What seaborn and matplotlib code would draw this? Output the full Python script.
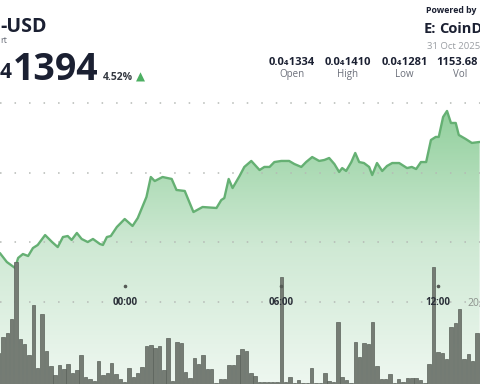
import numpy as np
import matplotlib
matplotlib.use("Agg")
import matplotlib.pyplot as plt
import matplotlib.transforms as mtransforms
from matplotlib.colors import LinearSegmentedColormap
import seaborn as sns

# price line: minutes from 00:00 (31 Oct), price in units of 0.0₄
line_min = [-287, -271, -252, -245, -234, -222, -211, -200, -183, -167, -154, -142,
            -131, -122, -110, -99, -85, -73, -57, -50, -41, -32, -18, 0, 18, 30,
            50, 60, 69, 87, 108, 119, 138, 158, 179, 211, 222, 229, 239, 248, 264,
            275, 291, 310, 321, 333, 344, 360, 378, 390, 406, 417, 431, 447, 459,
            470, 482, 493, 500, 509, 521, 530, 539, 550, 562, 569, 580, 592, 603,
            615, 631, 649, 660, 670, 681, 693, 704, 715, 722, 732, 741, 750, 761,
            768, 784, 798, 816]
line_price = [1293.2, 1285.9, 1281.0, 1289.2, 1292.4, 1290.8, 1297.3, 1299.8, 1307.9,
              1302.2, 1298.1, 1306.3, 1307.1, 1303.9, 1309.6, 1304.7, 1302.2, 1304.7,
              1300.6, 1299.8, 1306.3, 1307.1, 1314.5, 1321.0, 1315.3, 1321.8, 1339.0,
              1355.3, 1352.0, 1355.3, 1353.7, 1344.7, 1343.9, 1326.7, 1330.8, 1330.0,
              1336.5, 1338.1, 1353.7, 1346.3, 1356.1, 1363.5, 1368.4, 1361.0, 1363.5,
              1363.5, 1367.5, 1368.4, 1368.4, 1365.9, 1363.5, 1367.5, 1371.6, 1368.4,
              1369.2, 1370.8, 1365.9, 1359.4, 1362.6, 1360.2, 1367.5, 1374.9, 1367.5,
              1366.7, 1363.5, 1356.9, 1366.7, 1360.2, 1364.3, 1366.7, 1366.7, 1362.6,
              1363.5, 1361.8, 1367.5, 1367.5, 1385.5, 1388.0, 1388.0, 1404.3, 1409.2,
              1399.4, 1399.4, 1389.6, 1386.3, 1383.1, 1383.9]

# volume, one bar every 10 minutes starting 19:10 on 30 Oct
bar_start = -290
bar_vol = [30.7, 47.3, 51.3, 64.7, 122, 44.7, 40, 29, 79, 15.7, 69.7, 33.3, 18, 9,
           19, 14.7, 19.7, 10.7, 14, 29, 7.3, 4.7, 3.3, 23.3, 9, 11.3, 21.3, 10, 4.7,
           2.3, 15.7, 6.7, 10.7, 16.7, 38, 39, 35.7, 38, 14, 46.3, 3.3, 41.7, 41, 12.3,
           5.7, 26.3, 19.7, 29, 14.7, 14.7, 1.3, 4.7, 4.7, 19, 19, 29,
           34.7, 33.3, 11.3, 8, 2, 2, 2, 2, 2, 106.7, 2.3, 6.7, 1.3, 4, 0.8, 1.3, 15.7,
           0.8, 0.8, 10.7, 3.3, 2, 62, 6.7, 4, 1.3, 42.3, 26.7, 41.3, 40, 62.3, 18, 4.7,
           4.7, 10, 0.8, 4.7, 2, 5.7, 6.3, 5.7, 4, 0.8, 19.7, 116.7, 32.3, 30.7, 24.7,
           56.7, 61.3, 74.7, 25.3, 29.7, 23.3, 51.3, 30]
bar_min = [bar_start + 10 * i for i in range(len(bar_vol))]

grid_prices = [1415.7, 1358.6, 1302.2, 1253.2]
tick_min = [0, 360, 720]
tick_labels = ["00:00", "06:00", "12:00"]

stats_values = ["0.0₄1334", "0.0₄1410", "0.0₄1281"]
stats_labels = ["Open", "High", "Low"]
stats_x = [292, 348, 404.5]

W, H = 480, 384
x_lo, x_hi = -286.7, 816.8
p_lo, p_hi = 1186.3, 1499.8

sns.set_style("white")
plt.rcParams['font.family'] = ['Open Sans', 'DejaVu Sans']

DARK = '#1b2032'
GREY = '#6b6f7a'

fig = plt.figure(figsize=(4.8, 3.84), dpi=100)
fig.patch.set_facecolor('white')
ax = fig.add_axes([0, 0, 1, 1])
ax.set_facecolor('white')

# gradient area under the price line
fill = ax.fill_between(line_min, line_price, p_lo, color='none', linewidth=0)
path = fill.get_paths()[0]
cmap = LinearSegmentedColormap.from_list('g', ['#eef7f0', '#cfe9d4', '#92d09d'])
grad = np.linspace(0, 1, 256).reshape(-1, 1)
im = ax.imshow(grad, extent=[x_lo, x_hi, p_lo, max(line_price)], origin='lower',
               aspect='auto', cmap=cmap, zorder=0)
im.set_clip_path(path, transform=ax.transData)

sns.lineplot(x=line_min, y=line_price, ax=ax, color='#65b073', linewidth=1.7, zorder=3)

for g in grid_prices:
    ax.axhline(g, color='#b5b9b5', linewidth=1.1, linestyle=(0, (1, 8.5)), zorder=2)

ax.set_xlim(x_lo, x_hi)
ax.set_ylim(p_lo, p_hi)
ax.set_axis_off()

# volume bars
ax2 = ax.twinx()
sns.barplot(x=bar_min, y=bar_vol, ax=ax2, native_scale=True, width=0.8,
            color='#757c74', saturation=1, edgecolor='#5a615a', linewidth=0.5,
            errorbar=None, zorder=4)
ax2.set_xlim(x_lo, x_hi)
ax2.set_ylim(0, 384)
ax2.set_axis_off()

trans = mtransforms.blended_transform_factory(ax2.transData, ax2.transAxes)
ax2.plot(tick_min, [1 - 286 / H] * len(tick_min), transform=trans, ls='none',
         marker='o', ms=1.6, color='#555a55', zorder=6)
for t, lab in zip(tick_min, tick_labels):
    ax2.text(t, 1 - 305 / H, lab, transform=trans, ha='center', va='baseline',
             fontsize=7, fontweight='bold', color='#2a2f38', zorder=7)
fig.text(467 / W, 1 - 306 / H, "20,", fontsize=7.5, color='#8c918c')


def ft(x, y, s, **kw):
    fig.text(x / W, 1 - y / H, s, va='baseline', **kw)


# header
ft(0, 32, "-USD", fontsize=14, fontweight='bold', color=DARK)
ft(0, 43, "rt", fontsize=6.5, color=GREY)
ft(0, 78, "4", fontsize=15, fontweight='bold', color=DARK)
ft(12.5, 80, "1394", fontsize=27, fontweight='bold', color=DARK)
ft(103, 80, "4.52%", fontsize=7.5, fontweight='bold', color='#333840')
ft(136, 80.5, "▲", fontsize=8.5, color='#4caf62', family='DejaVu Sans')

for v, lab, x in zip(stats_values, stats_labels, stats_x):
    ft(x, 65, v, fontsize=8, fontweight='bold', color=DARK, ha='center')
    ft(x, 77, lab, fontsize=7, color=GREY, ha='center')
ft(436, 65, "1153.68", fontsize=8, fontweight='bold', color=DARK)
ft(460.5, 77, "Vol", fontsize=7, color=GREY, ha='center')

ft(426, 13, "Powered by", fontsize=6.3, fontweight='bold', color=DARK)
ft(424, 33, "E:", fontsize=10.5, fontweight='bold', color=DARK)
ft(439, 33, "CoinD", fontsize=10.5, fontweight='bold', color=DARK)
ft(427, 49, "31 Oct 2025", fontsize=6.8, color='#9a9ea3')

fig.savefig("out.png", dpi=100)
